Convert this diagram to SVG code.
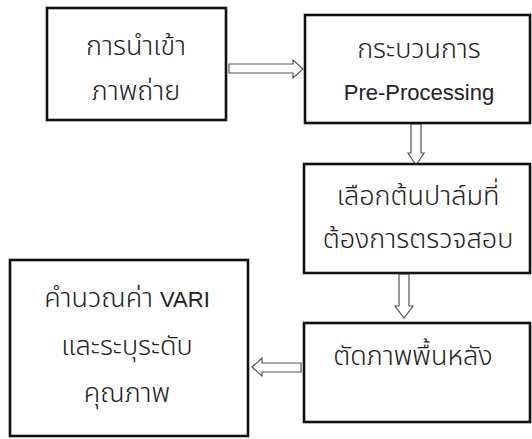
<svg xmlns="http://www.w3.org/2000/svg" width="532" height="439" viewBox="0 0 532 439">
<style>
.box{fill:#fff;stroke:#111;stroke-width:2.6}
.arr{fill:#fff;stroke:#555;stroke-width:1.2;stroke-linejoin:miter}
.t{font-family:"Noto Sans Thai","Liberation Sans","Noto Sans",sans-serif;font-size:27px;font-weight:300;fill:#222;text-anchor:middle}
.e{font-family:"Liberation Sans",Arial,sans-serif;font-size:22px;font-weight:400;fill:#222;text-anchor:middle}
</style>
<rect width="532" height="439" fill="#fff"/>
<g id="connectors">
<path class="arr" d="M229,64 H293 V60 L303,69 L293,78 V73 H229 Z"/>
<path class="arr" d="M411,124 V153 H408 L416,165 L424,153 H421 V124 Z"/>
<path class="arr" d="M399,274 V306 H395 L404,318 L413,306 H409 V274 Z"/>
<path class="arr" d="M301,363 H262 V358 L252,367 L262,376 V372 H301 Z"/>
</g>
<g id="n1">
<rect class="box" x="47" y="8" width="179" height="112"/>
<text class="t" x="136" y="55">การนำเข้า</text>
<text class="t" x="136" y="100">ภาพถ่าย</text>
</g>
<g id="n2">
<rect class="box" x="305" y="15" width="225" height="108"/>
<text class="t" x="419" y="58">กระบวนการ</text>
<text class="e" x="419" y="100">Pre-Processing</text>
</g>
<g id="n3">
<rect class="box" x="304" y="164" width="226" height="109"/>
<text class="t" x="418" y="205">เลือกต้นปาล์มที่</text>
<text class="t" x="418" y="248">ต้องการตรวจสอบ</text>
</g>
<g id="n4">
<rect class="box" x="304" y="323" width="226" height="99"/>
<text class="t" x="413" y="365">ตัดภาพพื้นหลัง</text>
</g>
<g id="n5">
<rect class="box" x="10" y="260" width="238" height="176"/>
<text class="t" x="127" y="307">คำนวณค่า <tspan style="font-family:'Liberation Sans',Arial,sans-serif;font-size:22px">VARI</tspan></text>
<text class="t" x="127" y="355">และระบุระดับ</text>
<text class="t" x="127" y="402">คุณภาพ</text>
</g>
</svg>
